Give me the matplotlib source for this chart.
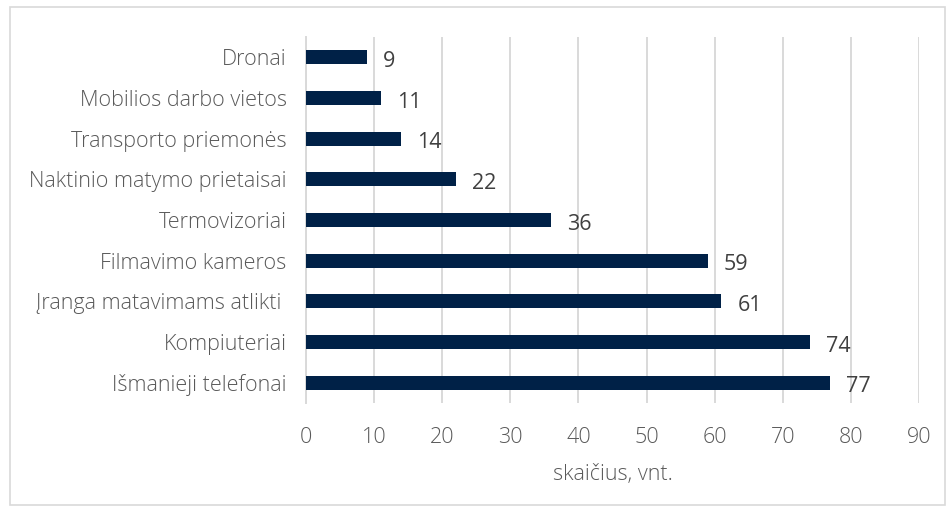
import matplotlib
matplotlib.use("Agg")
import matplotlib.pyplot as plt

categories = ["Išmanieji telefonai", "Kompiuteriai", "Įranga matavimams atlikti ",
              "Filmavimo kameros", "Termovizoriai", "Naktinio matymo prietaisai",
              "Transporto priemonės", "Mobilios darbo vietos", "Dronai"]
values = [77, 74, 61, 59, 36, 22, 14, 11, 9]
xticks = [0, 10, 20, 30, 40, 50, 60, 70, 80, 90]

plt.rcParams['font.family'] = ['Open Sans', 'DejaVu Sans']

fig = plt.figure(figsize=(9.52, 5.13), dpi=100)
ax = fig.add_axes([306/952, 1-403/513, (919-306)/952, (403-37)/513])

y = list(range(len(categories)))
bars = ax.barh(y, values, height=0.345, color='#002147', zorder=3)
ax.set_xlim(0, 90)
ax.set_ylim(-0.5, len(categories)-0.5)
ax.set_yticks(y)
ax.set_yticklabels(categories, fontsize=15.5, color='#595959', fontweight='light')
ax.set_xticks(xticks)
ax.set_xticklabels([str(t) for t in xticks], fontsize=15.5, color='#595959', fontweight='light')
ax.tick_params(axis='both', length=0)
ax.tick_params(axis='y', pad=14)
ax.tick_params(axis='x', pad=17)
ax.grid(axis='x', color='#d9d9d9', linewidth=1.4, zorder=0)
for s in ['top', 'right', 'bottom']:
    ax.spines[s].set_visible(False)
ax.spines['left'].set_color('#d9d9d9')
ax.spines['left'].set_linewidth(1.4)

for yi, v in zip(y, values):
    ax.annotate(str(v), (v, yi), xytext=(11.5, -3), textcoords='offset points',
                va='center', ha='left', fontsize=15.5, color='#404040')

ax.set_xlabel('skaičius, vnt.', fontsize=15.5, color='#595959', fontweight='light', labelpad=12)

fig.add_artist(plt.Rectangle((10/952, 1-505/513), 935/952, 498/513, transform=fig.transFigure,
                             fill=False, edgecolor='#d9d9d9', linewidth=1.2))

fig.savefig('out.png', dpi=100)
